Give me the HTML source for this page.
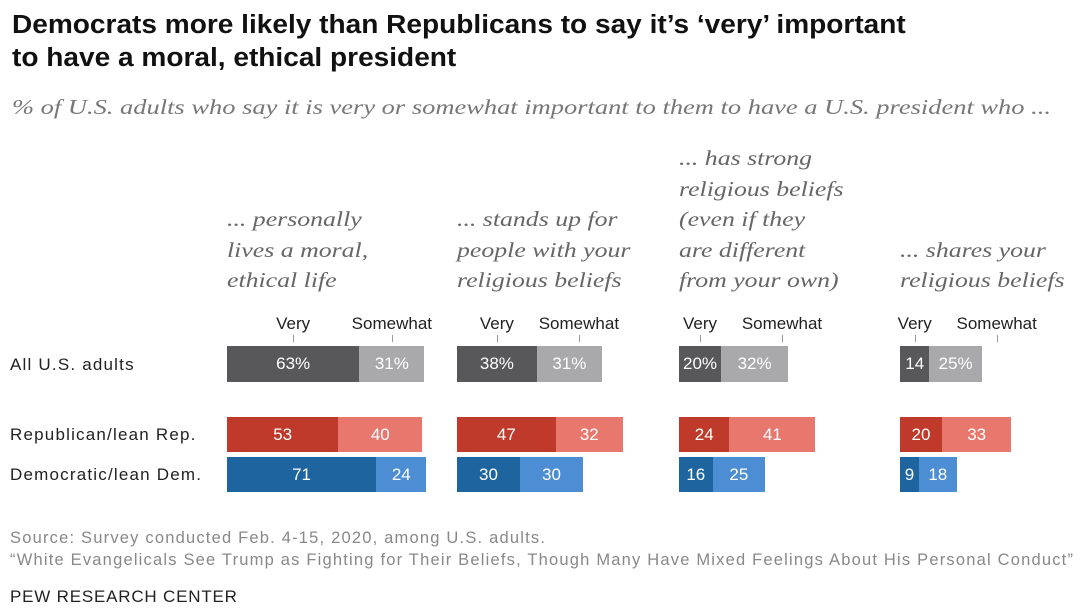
<!DOCTYPE html>
<html><head><meta charset="utf-8"><style>
body{margin:0;width:1086px;height:616px;background:#fff;font-family:"Liberation Sans",sans-serif;overflow:hidden;position:relative}
.t{position:absolute;white-space:nowrap}
.title{left:12px;top:9px;font-size:25.5px;font-weight:bold;line-height:33px;color:#111;transform-origin:0 0;transform:scaleX(1.1)}
.sub{left:12px;top:95px;font-family:"Liberation Serif",serif;font-style:italic;font-size:21px;color:#777;transform-origin:0 0;transform:scaleX(1.26)}
.q{font-family:"Liberation Serif",serif;font-style:italic;font-size:21.5px;color:#666;line-height:30.5px;transform-origin:0 0;transform:scaleX(1.2)}
.rl{left:10px;font-size:17px;color:#222;letter-spacing:1.2px}
.src{left:10px;font-size:16.5px;color:#888;letter-spacing:1.2px}
</style></head><body>
<div class="t title">Democrats more likely than Republicans to say it’s ‘very’ important<br>to have a moral, ethical president</div>
<div class="t sub">% of U.S. adults who say it is very or somewhat important to them to have a U.S. president who ...</div>
<div class="t rl" style="top:355px">All U.S. adults</div>
<div class="t rl" style="top:425px">Republican/lean Rep.</div>
<div class="t rl" style="top:465px">Democratic/lean Dem.</div>
<div class="t src" style="top:529px">Source: Survey conducted Feb. 4-15, 2020, among U.S. adults.</div>
<div class="t src" style="top:551px">“White Evangelicals See Trump as Fighting for Their Beliefs, Though Many Have Mixed Feelings About His Personal Conduct”</div>
<div class="t" style="left:10px;top:587px;font-size:17px;color:#222;letter-spacing:0.8px">PEW RESEARCH CENTER</div>
<div id="chart"></div>
<script>
const questions=[["... personally","lives a moral,","ethical life"],["... stands up for","people with your","religious beliefs"],["... has strong","religious beliefs","(even if they","are different","from your own)"],["... shares your","religious beliefs"]];
const groupStarts=[227,457,679,900];
const allVery=[63,38,20,14];
const allSome=[31,31,32,25];
const repVery=[53,47,24,20];
const repSome=[40,32,41,33];
const demVery=[71,30,16,9];
const demSome=[24,30,25,18];
const scale=2.1;
const x=v=>v*scale;
const c=document.getElementById('chart');
function mk(cls,css,txt){const d=document.createElement('div');d.className=cls;d.style.cssText=css;if(txt!==undefined)d.textContent=txt;c.appendChild(d);return d;}
const rows=[
 {v:allVery,s:allSome,y:346,h:36,cv:'#58585a',cs:'#a9a9ab',pct:true,name:'all-adults'},
 {v:repVery,s:repSome,y:417,h:35,cv:'#bf3a2a',cs:'#e8786d',pct:false,name:'republican'},
 {v:demVery,s:demSome,y:457,h:35,cv:'#1e65a0',cs:'#4d8dd3',pct:false,name:'democratic'}];
questions.forEach((q,i)=>{
 const gx=groupStarts[i];
 const top=279-(q.length-1)*30.5-14;
 const qd=mk('t q',`left:${gx}px;top:${top}px`);
 qd.innerHTML=q.join('<br>');
 
 
 const vc=Math.max(gx+x(allVery[i])/2, gx+14);
 const sc=Math.max(gx+x(allVery[i])+x(allSome[i])/2, vc+82);
 const l1=mk('t',`left:${vc-40}px;width:80px;text-align:center;top:314px;font-size:17px;color:#222`,'Very');
 
 
 const l2=mk('t',`left:${sc-60}px;width:120px;text-align:center;top:314px;font-size:17px;color:#222`,'Somewhat');
 
 
 mk('t',`left:${vc}px;top:335px;width:1px;height:7px;background:#999`);
 mk('t',`left:${sc}px;top:335px;width:1px;height:7px;background:#999`);
 rows.forEach(r=>{
  const wv=x(r.v[i]), ws=x(r.s[i]);
  const b1=mk('t',`left:${gx}px;top:${r.y}px;width:${wv}px;height:${r.h}px;background:${r.cv};color:#fff;font-size:17px;line-height:${r.h}px;text-align:center`,r.v[i]+(r.pct&&r.v[i]>=15?'%':''));
  
  
  const b2=mk('t',`left:${gx+wv}px;top:${r.y}px;width:${ws}px;height:${r.h}px;background:${r.cs};color:#fff;font-size:17px;line-height:${r.h}px;text-align:center`,r.s[i]+(r.pct?'%':''));
  
  
 });
});
</script>
</body></html>
